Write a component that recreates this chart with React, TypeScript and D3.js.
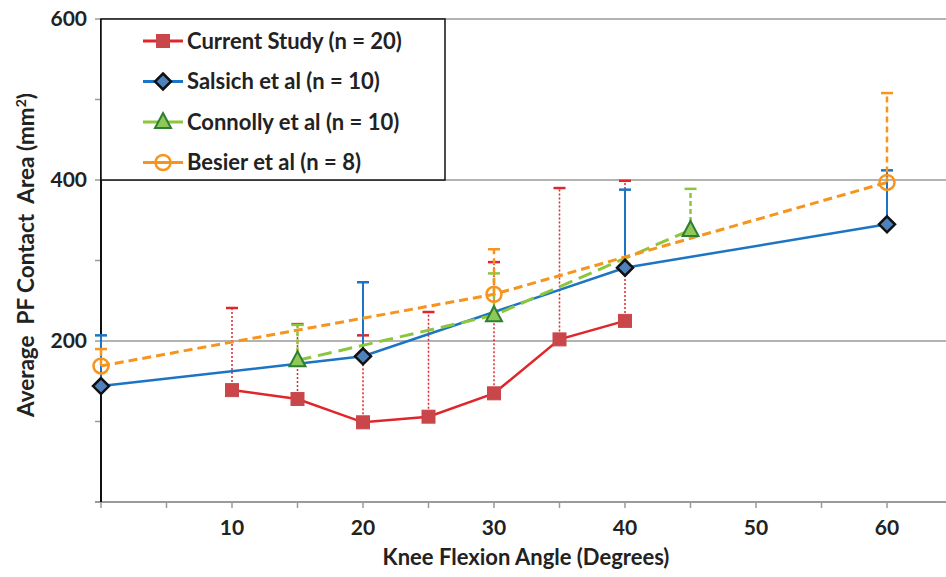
import React from "react";
import * as d3 from "d3";

const xTicksMajor = [10, 20, 30, 40, 50, 60];
const xTicksMinor = [0, 5, 10, 15, 20, 25, 30, 35, 40, 45, 50, 55, 60, 65];
const yTicksMajor = [200, 400, 600];
const yTicksMinor = [0, 100, 300, 500];

const currentX = [10, 15, 20, 25, 30, 35, 40];
const currentY = [139, 128, 99, 106, 135, 202, 225];
const currentUp = [241, 221, 207, 236, 298, 390, 399];

const salsichX = [0, 20, 40, 60];
const salsichY = [144, 181, 291, 345];
const salsichUp = [207, 273, 388, 412];

const connollyX = [15, 30, 45];
const connollyY = [176, 232, 338];
const connollyUp = [220, 284, 389];

const besierX = [0, 30, 60];
const besierY = [169, 258, 397];
const besierUp = [190, 314, 508];

const legendLabels = [
  "Current Study (n = 20)",
  "Salsich et al (n = 10)",
  "Connolly et al (n = 10)",
  "Besier et al (n = 8)",
];

const FONT = "Lato, 'Open Sans', sans-serif";

const RED = "#E0262B";
const RED_M = "#C9474A";
const BLUE = "#1C75C4";
const BLUE_M = "#4F81BD";
const GREEN = "#8CC63F";
const GREEN_M = "#8DC859";
const ORANGE = "#F7941D";

export default function App() {
  const x = d3.scaleLinear().domain([0, 65]).range([101, 952.5]);
  const y = d3.scaleLinear().domain([0, 600]).range([502, 19]);
  const line = d3
    .line<[number, number]>()
    .x((d) => x(d[0]))
    .y((d) => y(d[1]));

  const zip = (xs: number[], ys: number[]) =>
    xs.map((v, i) => [v, ys[i]] as [number, number]);

  const series = [
    { xs: currentX, ys: currentY, up: currentUp, color: RED, dash: "", errDash: "2,2", width: 2.5, capColor: RED, marker: "square" },
    { xs: salsichX, ys: salsichY, up: salsichUp, color: BLUE, dash: "", errDash: "", width: 2.5, capColor: BLUE, marker: "diamond" },
    { xs: connollyX, ys: connollyY, up: connollyUp, color: GREEN, dash: "14,7", errDash: "5,3", width: 3, capColor: GREEN, marker: "triangle" },
    { xs: besierX, ys: besierY, up: besierUp, color: ORANGE, dash: "9,5", errDash: "6,4", width: 3, capColor: ORANGE, marker: "circle" },
  ];

  const marker = (type: string, cx: number, cy: number, key: string) => {
    if (type === "square")
      return <rect key={key} x={cx - 6.5} y={cy - 6.5} width={13} height={13} fill={RED_M} stroke={RED_M} strokeWidth={1} />;
    if (type === "diamond")
      return (
        <path key={key} d={`M${cx},${cy - 8}L${cx + 8},${cy}L${cx},${cy + 8}L${cx - 8},${cy}Z`} fill={BLUE_M} stroke="#111" strokeWidth={2.5} />
      );
    if (type === "triangle")
      return (
        <path key={key} d={`M${cx},${cy - 9}L${cx + 8},${cy + 6}L${cx - 8},${cy + 6}Z`} fill={GREEN_M} stroke="#2E7D32" strokeWidth={2} />
      );
    return <circle key={key} cx={cx} cy={cy} r={7.5} fill="none" stroke={ORANGE} strokeWidth={2.5} />;
  };

  return (
    <svg width={946} height={577} style={{ position: "absolute", left: 0, top: 0, background: "#fff" }} fontFamily={FONT}>
      {/* gridlines */}
      {yTicksMajor.map((t) => (
        <line key={"g" + t} x1={x(0)} x2={946} y1={y(t)} y2={y(t)} stroke="#9a9a9a" strokeWidth={1.5} />
      ))}
      {/* x axis */}
      <line x1={x(0) - 6} x2={946} y1={y(0)} y2={y(0)} stroke="#9a9a9a" strokeWidth={1.8} />
      {xTicksMinor.map((t) => (
        <line key={"xt" + t} x1={x(t)} x2={x(t)} y1={y(0)} y2={y(0) + 6} stroke="#9a9a9a" strokeWidth={1.5} />
      ))}
      {xTicksMajor.map((t) => (
        <text key={"xl" + t} x={x(t)} y={535} textAnchor="middle" fontSize={21} fontWeight="bold" fill="#222">
          {t}
        </text>
      ))}
      {/* y axis */}
      {yTicksMinor.concat(yTicksMajor).map((t) => (
        <line key={"yt" + t} x1={x(0) - 6} x2={x(0)} y1={y(t)} y2={y(t)} stroke="#9a9a9a" strokeWidth={1.5} />
      ))}
      <line x1={x(0)} x2={x(0)} y1={y(0)} y2={y(600)} stroke="#111" strokeWidth={2} />
      {yTicksMajor.map((t) => (
        <text key={"yl" + t} x={87} y={y(t)} dy="0.35em" textAnchor="end" fontSize={21} fontWeight="bold" fill="#222">
          {t}
        </text>
      ))}
      <text x={526} y={565} textAnchor="middle" fontSize={22} fontWeight="bold" fill="#222">
        Knee Flexion Angle (Degrees)
      </text>
      <text transform="translate(34,255) rotate(-90)" textAnchor="middle" fontSize={22.5} fontWeight="bold" fill="#222" style={{ whiteSpace: "pre" }}>
        {"Average  PF Contact  Area (mm"}
        <tspan dy={-8} fontSize={14}>2</tspan>
        <tspan dy={8}>)</tspan>
      </text>

      {/* error bars */}
      {series.map((s, si) =>
        s.xs.map((xv, i) => (
          <g key={"e" + si + "-" + i}>
            <line x1={x(xv)} x2={x(xv)} y1={y(s.ys[i])} y2={y(s.up[i])} stroke={s.color} strokeWidth={si === 0 ? 1.5 : si === 1 ? 2 : 2.5} strokeDasharray={s.errDash} />
            <line x1={x(xv) - 6} x2={x(xv) + 6} y1={y(s.up[i])} y2={y(s.up[i])} stroke={s.capColor} strokeWidth={2.5} />
          </g>
        ))
      )}
      {/* lines */}
      {series.map((s, si) => (
        <path key={"l" + si} d={line(zip(s.xs, s.ys)) || ""} fill="none" stroke={s.color} strokeWidth={s.width} strokeDasharray={s.dash} />
      ))}
      {/* markers */}
      {series.map((s, si) => s.xs.map((xv, i) => marker(s.marker, x(xv), y(s.ys[i]), "m" + si + "-" + i)))}

      {/* legend */}
      <rect x={x(0)} y={y(600)} width={344} height={161} fill="#fff" stroke="#111" strokeWidth={1.5} />
      {series.map((s, si) => {
        const ly = 41 + si * 40.5;
        return (
          <g key={"lg" + si}>
            <line x1={143} x2={183} y1={ly} y2={ly} stroke={s.color} strokeWidth={3} />
            {marker(s.marker, 163, ly, "lm" + si)}
            <text x={187} y={ly} dy="0.35em" fontSize={22} fontWeight="bold" fill="#222">
              {legendLabels[si]}
            </text>
          </g>
        );
      })}
    </svg>
  );
}
